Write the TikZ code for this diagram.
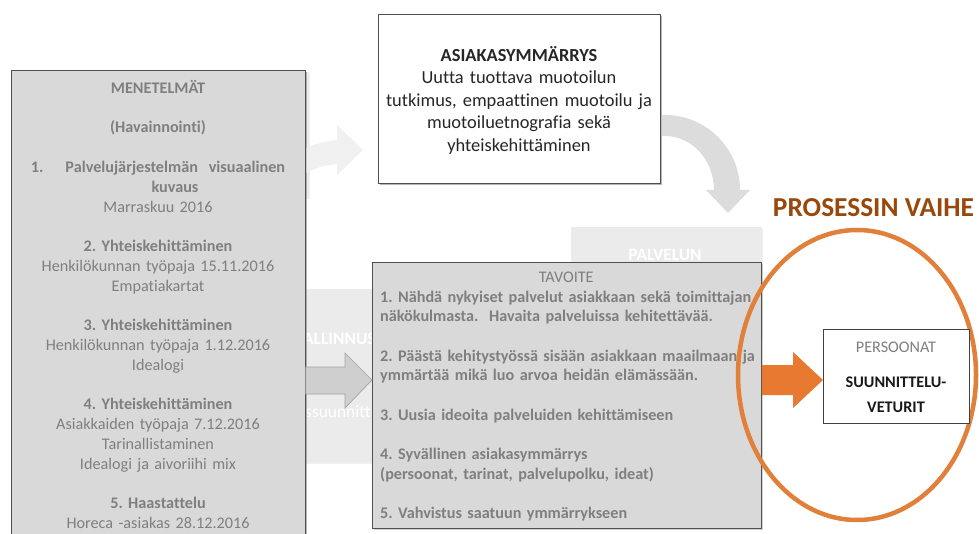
\documentclass[tikz,border=0pt]{standalone}
\usepackage{fontspec}
\setmainfont{Carlito}[Ligatures=NoCommon]
\usetikzlibrary{shadows,calc,shapes.geometric}
\frenchspacing

\definecolor{panel}{HTML}{D9D9D9}
\definecolor{ghost}{HTML}{EBEBEB}
\definecolor{ghostarrow}{HTML}{DCDCDC}
\definecolor{faintarrow}{HTML}{F0F0F0}
\definecolor{paletxt}{HTML}{7F7F7F}
\definecolor{edge}{HTML}{505050}
\definecolor{grayarrow}{HTML}{CFCFCF}
\definecolor{grayarrowedge}{HTML}{A3A3A3}
\definecolor{ring}{RGB}{224,128,58}
\definecolor{accent}{RGB}{232,121,48}
\definecolor{phase}{RGB}{153,72,12}
\definecolor{darktxt}{HTML}{262626}

\begin{document}
\begin{tikzpicture}[x=1pt,y=-1pt,
  boxshadow/.style={drop shadow={shadow xshift=1.6pt,shadow yshift=-1.6pt,opacity=0.35}},
  panelbox/.style={draw=edge,line width=0.8pt,fill=panel,anchor=north west,inner sep=0pt,boxshadow},
  whitebox/.style={draw=edge,line width=0.8pt,fill=white,anchor=north west,inner sep=0pt,boxshadow},
  ghostbox/.style={fill=ghost,draw=none,anchor=north west,inner sep=0pt,
    drop shadow={shadow xshift=1pt,shadow yshift=-1.5pt,opacity=0.12}},
  ghosttxt/.style={inner sep=0pt,text=white,font=\fontsize{17.4}{21}\selectfont\bfseries},
  bodytxt/.style={inner sep=0pt,text=paletxt},
]
\useasboundingbox (0,0) rectangle (979,534);
\clip (0,0) rectangle (979,534);
\fill[white] (0,0) rectangle (979,534);

% --- faded background layer ---
\node[ghostbox,minimum width=100pt,minimum height=125pt] (backTop) at (209,72) {};
\node[ghostbox,minimum width=90pt,minimum height=173pt] (backModel) at (300,289) {};
\node[ghosttxt,anchor=base west] (backModelA) at (303,344) {ALLINNUS};
\node[ghosttxt,anchor=base west,font=\fontsize{17.4}{21}\selectfont] (backModelB) at (305,417) {ssuunnitt};
\node[ghostbox,minimum width=191pt,minimum height=110pt] (backService) at (571,227) {};
\node[ghosttxt,anchor=base] (backServiceT) at (665,260.6) {PALVELUN};

% --- main boxes ---
\node[whitebox,minimum width=282pt,minimum height=169pt] (insight) at (378,14) {};
\node[panelbox,minimum width=294pt,minimum height=500pt] (methods) at (11,70) {};

% faint curved arrow: methods -> insight
\fill[faintarrow]
  ($(methods.east |- 0,148)$) .. controls (318,143) and (328,141) .. (337,140)
  -- (337,125) -- ($(insight.west |- 0,150)+(-15,0)$) -- (337,175) -- (337,164)
  .. controls (325,165) and (315,168) .. ($(methods.east |- 0,173)$) -- cycle;
% curved arrow: insight -> service phase
\fill[ghostarrow]
  ($(insight.east |- 0,115)$) -- (665,115) .. controls (706.4,115) and (740,148.6) .. (740,190)
  -- (750,190) -- (728,213) -- (706,190) -- (714,190)
  .. controls (714,160.2) and (692,136) .. (665,136) -- ($(insight.east |- 0,136)$) -- cycle;

% redraw the boxes over the arrow ends
\node[whitebox,minimum width=282pt,minimum height=169pt] (insightTop) at (378,14) {};
\node[panelbox,minimum width=294pt,minimum height=500pt] (methodsTop) at (11,70) {};

\node[anchor=north,inner sep=0pt,text width=282pt,align=center,text=darktxt,
      font=\fontsize{18.4}{22.5}\selectfont] (insightText) at (519,45.2)
  {\strut\textbf{ASIAKASYMMÄRRYS}\\Uutta tuottava muotoilun\\tutkimus, empaattinen muotoilu ja\\muotoiluetnografia sekä\\yhteiskehittäminen};

\node[bodytxt,anchor=north,text width=294pt,align=center,
      font=\fontsize{16.2}{19.77}\selectfont] (methodsText) at (158,79.4)
  {\strut\textbf{MENETELMÄT}\\[19.77pt]
   \textbf{(Havainnointi)}\\[19.77pt]
   \textbf{1.\hspace{22pt}Palvelujärjestelmän\ \ visuaalinen}\\
   \hspace*{34pt}\textbf{kuvaus}\\
   Marraskuu 2016\\[19.77pt]
   \textbf{2. Yhteiskehittäminen}\\
   Henkilökunnan työpaja 15.11.2016\\
   Empatiakartat\\[19.77pt]
   \textbf{3. Yhteiskehittäminen}\\
   Henkilökunnan työpaja 1.12.2016\\
   Idealogi\\[19.77pt]
   \textbf{4. Yhteiskehittäminen}\\
   Asiakkaiden työpaja 7.12.2016\\
   Tarinallistaminen\\
   Idealogi ja aivoriihi mix\\[19.77pt]
   \textbf{5. Haastattelu}\\
   Horeca -asiakas 28.12.2016};

% gray block arrow: methods -> goal
\node[panelbox,minimum width=389pt,minimum height=266pt] (goal) at (372,262) {};
\filldraw[fill=grayarrow,draw=grayarrowedge,line width=0.7pt]
  ($(methods.east |- 0,367)$) -- (345,367) -- (345,353) -- ($(goal.west |- 0,380)$)
  -- (345,408) -- (345,394) -- ($(methods.east |- 0,394)$) -- cycle;

\node[bodytxt,anchor=north west,text width=372pt,align=left,
      font=\fontsize{16.2}{19.7}\selectfont\bfseries] (goalText) at (380,268.4)
  {\strut\makebox[372pt]{\mdseries TAVOITE}\\
   \makebox[372pt][s]{1. Nähdä nykyiset palvelut asiakkaan sekä toimittajan}\\
   näkökulmasta.\ \ Havaita palveluissa kehitettävää.\\[19.7pt]
   \makebox[372pt][s]{2. Päästä kehitystyössä sisään asiakkaan maailmaan ja}\\
   ymmärtää mikä luo arvoa heidän elämässään.\\[19.7pt]
   3. Uusia ideoita palveluiden kehittämiseen\\[19.7pt]
   4. Syvällinen asiakasymmärrys\\
   (persoonat, tarinat, palvelupolku, ideat)\\[19.7pt]
   5. Vahvistus saatuun ymmärrykseen};

% --- current phase ---
\node[draw=ring,line width=4.5pt,ellipse,minimum width=238pt,minimum height=290pt,inner sep=0pt] (phaseRing) at (857,375) {};
\node[draw=black!75,line width=0.7pt,fill=white,anchor=north west,inner sep=0pt,
      minimum width=146pt,minimum height=94pt] (persona) at (823,329) {};
\fill[accent]
  ($(goal.east |- 0,365)$) -- (793,365) -- (793,352) -- ($(persona.west |- 0,380)$)
  -- (793,408) -- (793,395) -- ($(goal.east |- 0,395)$) -- cycle;

\node[inner sep=0pt,anchor=north,text width=146pt,align=center,
      font=\fontsize{16.2}{25}\selectfont] (personaText) at (896,334.7)
  {\strut\textcolor{paletxt}{PERSOONAT}\\[9.7pt]
   \textcolor{black!90}{\textbf{SUUNNITTELU-}}\\
   \textcolor{black!90}{\textbf{VETURIT}}};

\node[inner sep=0pt,anchor=base,text=phase,font=\fontsize{27.4}{32}\selectfont\bfseries] (phaseTitle) at (873.5,216.4) {PROSESSIN VAIHE};
\end{tikzpicture}
\end{document}
